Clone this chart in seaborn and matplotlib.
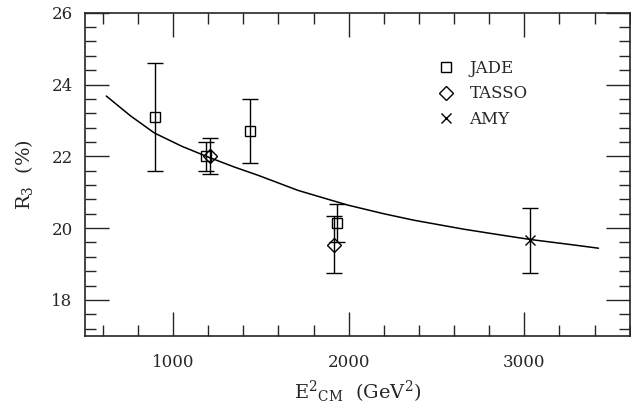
import matplotlib
matplotlib.use("Agg")
import matplotlib.pyplot as plt
import seaborn as sns
from matplotlib.ticker import MultipleLocator, AutoMinorLocator

# data
jade_x = [895, 1190, 1440, 1935]
jade_y = [23.1, 22.0, 22.7, 20.14]
jade_err = [1.5, 0.41, 0.9, 0.52]

tasso_x = [1212, 1915]
tasso_y = [22.0, 19.54]
tasso_err = [0.5, 0.8]

amy_x = [3030]
amy_y = [19.66]
amy_err = [0.9]

curve_x = [620, 760, 894, 1050, 1200, 1350, 1485, 1712, 1843, 1996, 2200, 2371, 2655, 2850, 3038, 3250, 3422]
curve_y = [23.68, 23.12, 22.65, 22.28, 21.98, 21.7, 21.47, 21.05, 20.86, 20.64, 20.4, 20.22, 19.97, 19.82, 19.68, 19.55, 19.44]

sns.set_style("ticks")
plt.rcParams['font.family'] = ['DejaVu Serif']
plt.rcParams['mathtext.fontset'] = 'dejavuserif'

fig = plt.figure(figsize=(6.31, 4.11), dpi=100)
ax = fig.add_axes([0.135, 0.183, 0.863, 0.786])

sns.lineplot(x=curve_x, y=curve_y, color='black', linewidth=1.1, ax=ax)

common = dict(color='black', ecolor='black', elinewidth=1.0, capsize=5.5,
              capthick=1.0, linestyle='none', markersize=8, markeredgewidth=1.0)
ax.errorbar(jade_x, jade_y, yerr=jade_err, fmt='s', markerfacecolor='none', label='JADE', **common)
ax.errorbar(tasso_x, tasso_y, yerr=tasso_err, fmt='D', markerfacecolor='none', label='TASSO',
            **{**common, 'markersize': 7})
ax.errorbar(amy_x, amy_y, yerr=amy_err, fmt='x', label='AMY', **{**common, 'markersize': 10})

ax.set_xlim(500, 3600)
ax.set_ylim(17, 26)
ax.xaxis.set_major_locator(MultipleLocator(1000))
ax.xaxis.set_minor_locator(MultipleLocator(200))
ax.yaxis.set_major_locator(MultipleLocator(2))
ax.yaxis.set_minor_locator(AutoMinorLocator(5))
ax.tick_params(which='both', direction='in', top=True, right=True, width=1.0)
ax.tick_params(which='major', length=17, labelsize=12)
ax.tick_params(axis='x', which='major', pad=13)
ax.tick_params(axis='y', which='major', pad=9)
ax.tick_params(which='minor', length=8)
for s in ax.spines.values():
    s.set_linewidth(1.2)

ax.set_xlabel(r'E$^2$$_{\rm CM}$  (GeV$^2$)', fontsize=14, labelpad=6)
ax.set_ylabel(r'R$_3$  (%)', fontsize=14, labelpad=12)

handles, labels = ax.get_legend_handles_labels()
handles = [h[0] for h in handles]
for h in handles:
    h.set_markersize(7)
leg = ax.legend(handles, labels, loc='upper left', bbox_to_anchor=(0.62, 0.90), frameon=False,
                fontsize=12, handletextpad=0.9, labelspacing=0.5, handlelength=1.0)

fig.savefig('out.png', dpi=100)
